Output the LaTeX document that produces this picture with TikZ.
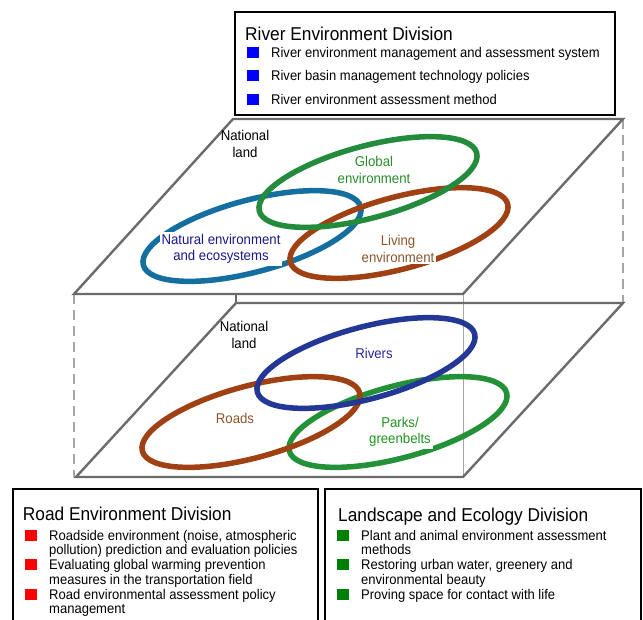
\documentclass[tikz,border=0pt]{standalone}
\usepackage{fontspec}
\setmainfont{Liberation Sans}[FakeStretch=0.93]
\usetikzlibrary{shapes.geometric}
\definecolor{topgreen}{RGB}{35,140,60}
\definecolor{topblue}{RGB}{20,110,160}
\definecolor{ringbrown}{RGB}{160,65,20}
\definecolor{rivblue}{RGB}{35,55,150}
\definecolor{parkgreen}{RGB}{35,145,55}
\definecolor{txtgreen}{RGB}{40,140,40}
\definecolor{txtnavy}{RGB}{25,25,140}
\definecolor{txtbrown}{RGB}{140,85,45}
\definecolor{txtriv}{RGB}{40,40,160}
\definecolor{txtpark}{RGB}{30,150,30}
\definecolor{bulgreen}{RGB}{0,128,0}
\begin{document}
\begin{tikzpicture}[x=1pt,y=-1pt,
  ring/.style={draw,ellipse,line width=5.5pt,minimum width=225pt,minimum height=72pt,rotate=15,inner sep=0pt},
  plane/.style={draw=black!58,line width=2.4pt,line join=miter},
  vline/.style={draw=black!35,line width=1.1pt,dash pattern=on 10pt off 6pt},
  divbox/.style={draw=black,line width=2pt},
  lbl/.style={font=\fontsize{14.2}{16.5}\selectfont,align=center,inner sep=2pt},
  ttl/.style={font=\fontsize{18.6}{22}\selectfont,anchor=base west,inner sep=0pt},
  item/.style={font=\fontsize{14}{14.75}\selectfont,anchor=base west,inner sep=0pt},
  bul/.style={minimum width=12pt,minimum height=11pt,inner sep=0pt,draw=none}]
\useasboundingbox (0,0) rectangle (643,619);
\fill[white] (0,0) rectangle (643,619);

% ---- connecting verticals
\draw[vline] (74,294) -- (74,477);
\draw[vline] (623,119) -- (623,303);
\draw[draw=black!35,line width=0.8pt] (463,294) -- (463,477);
\draw[draw=black!58,line width=1.6pt] (236,294) -- (236,303);

% ---- lower plane
\draw[plane] (236,303) -- (623,303) -- (463,477) -- (76,477) -- cycle;
% ---- upper plane
\draw[plane,fill=white] (233,119) -- (623,119) -- (463,294) -- (74,294) -- cycle;

% ---- top box
\draw[divbox] (235,12) rectangle (615,115);
\node[ttl] (rtitle) at (245,40) {River Environment Division};
\node[bul,fill=blue] (rb1) at (253,52) {};
\node[bul,fill=blue] (rb2) at (253,75) {};
\node[bul,fill=blue] (rb3) at (253,99) {};
\node[item] (ri1) at (271,57) {River environment management and assessment system};
\node[item] (ri2) at (271,80) {River basin management technology policies};
\node[item] (ri3) at (271,104) {River environment assessment method};

% ---- upper plane rings
\node[ring,draw=topblue] (natural) at (252,236) {};
\node[ring,draw=ringbrown] (living) at (399,233) {};
\node[ring,draw=topgreen] (global) at (368,182) {};
\node[lbl] (nl1) at (245,144) {National\\land};
\node[lbl,text=txtgreen] (gl) at (374,170) {Global\\environment};
\node[lbl,text=txtnavy,fill=white] (nat) at (221,249) {Natural environment\\and ecosystems};
\node[lbl,text=txtbrown,fill=white] (liv) at (398,249) {Living\\environment};

% ---- lower plane rings
\node[ring,draw=parkgreen] (parks) at (398,422) {};
\node[ring,draw=ringbrown] (roads) at (251,422) {};
\node[ring,draw=rivblue] (rivers) at (366,363) {};
\node[lbl] (nl2) at (244,335) {National\\land};
\node[lbl,text=txtriv] (riv) at (374,353) {Rivers};
\node[lbl,text=txtbrown] (rd) at (235,418) {Roads};
\node[lbl,text=txtpark,fill=white] (pk) at (400,432) {Parks/\\greenbelts};

% ---- road box
\draw[divbox] (13,625) -- (13,489) -- (318,489) -- (318,625);
\node[ttl] (dtitle) at (22.7,520) {Road Environment Division};
\node[bul,fill=red] (db1) at (30.5,535) {};
\node[bul,fill=red] (db2) at (30.5,564.5) {};
\node[bul,fill=red] (db3) at (30.5,594) {};
\node[item] (di1) at (49,540) {\parbox[t]{265pt}{\raggedright Roadside environment (noise, atmospheric\\pollution) prediction and evaluation policies}};
\node[item] (di2) at (49,569.5) {\parbox[t]{265pt}{\raggedright Evaluating global warming prevention\\measures in the transportation field}};
\node[item] (di3) at (49,599) {\parbox[t]{265pt}{\raggedright Road environmental assessment policy\\management}};

% ---- landscape box
\draw[divbox] (325,625) -- (325,489) -- (641,489) -- (641,625);
\node[ttl] (ltitle) at (338,521) {Landscape and Ecology Division};
\node[bul,fill=bulgreen] (lb1) at (343,535) {};
\node[bul,fill=bulgreen] (lb2) at (343,564.5) {};
\node[bul,fill=bulgreen] (lb3) at (343,594) {};
\node[item] (li1) at (361,540) {\parbox[t]{275pt}{\raggedright Plant and animal environment assessment\\methods}};
\node[item] (li2) at (361,569.5) {\parbox[t]{275pt}{\raggedright Restoring urban water, greenery and\\environmental beauty}};
\node[item] (li3) at (361,599) {Proving space for contact with life};
\end{tikzpicture}
\end{document}
